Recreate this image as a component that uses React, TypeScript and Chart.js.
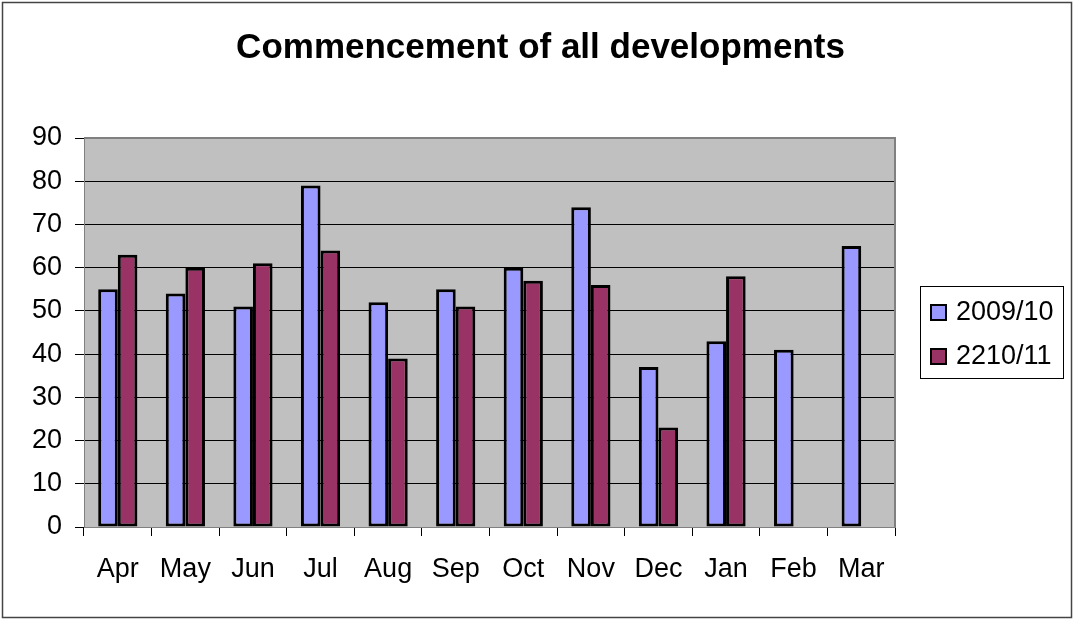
import React, { useEffect, useRef } from "react";
import { Chart, registerables } from "chart.js";

Chart.register(...registerables);

const titleText = "Commencement of all developments";
const months = ["Apr", "May", "Jun", "Jul", "Aug", "Sep", "Oct", "Nov", "Dec", "Jan", "Feb", "Mar"];
const series1Label = "2009/10";
const series1 = [55, 54, 51, 79, 52, 55, 60, 74, 37, 43, 41, 65];
const series2Label = "2210/11";
const series2: (number | null)[] = [63, 60, 61, 64, 39, 51, 57, 56, 23, 58, null, null];
const yTicks = [0, 10, 20, 30, 40, 50, 60, 70, 80, 90];

const FONT = "'Liberation Sans', Arial, sans-serif";

const chartDecor = {
  id: "chartDecor",
  beforeDraw(chart: any) {
    const { ctx, chartArea } = chart;
    ctx.save();
    ctx.fillStyle = "#ffffff";
    ctx.fillRect(0, 0, chart.width, chart.height);
    ctx.fillStyle = "#C0C0C0";
    ctx.fillRect(chartArea.left, chartArea.top, chartArea.right - chartArea.left, chartArea.bottom - chartArea.top);
    ctx.restore();
  },
  afterDraw(chart: any) {
    const { ctx, chartArea } = chart;
    ctx.save();
    // plot area border (top/right)
    ctx.strokeStyle = "#808080";
    ctx.lineWidth = 2;
    ctx.beginPath();
    ctx.moveTo(chartArea.left, chartArea.top);
    ctx.lineTo(chartArea.right, chartArea.top);
    ctx.lineTo(chartArea.right, chartArea.bottom);
    ctx.stroke();
    // outer border
    ctx.strokeStyle = "#444444";
    ctx.lineWidth = 1.5;
    ctx.strokeRect(2.5, 2.5, chart.width - 4, chart.height - 4);
    // legend
    ctx.strokeStyle = "#000000";
    ctx.lineWidth = 1;
    ctx.strokeRect(920.5, 286.5, 143, 92);
    ctx.font = `27px ${FONT}`;
    ctx.textBaseline = "middle";
    ctx.textAlign = "left";
    chart.data.datasets.forEach((ds: any, i: number) => {
      const y = 312 + i * 44;
      ctx.fillStyle = ds.backgroundColor;
      ctx.fillRect(931, y - 7, 15, 15);
      ctx.lineWidth = 2;
      ctx.strokeStyle = "#000000";
      ctx.strokeRect(931, y - 7, 15, 15);
      ctx.fillStyle = "#000000";
      ctx.fillText(ds.label, 956, y + 1);
    });
    ctx.restore();
  },
};

export default function App() {
  const ref = useRef<HTMLCanvasElement | null>(null);

  useEffect(() => {
    if (!ref.current) return;
    const chart = new Chart(ref.current, {
      type: "bar",
      data: {
        labels: months,
        datasets: [
          {
            label: series1Label,
            data: series1,
            backgroundColor: "#9999FF",
            borderColor: "#000000",
            borderWidth: 3,
            borderSkipped: false,
            categoryPercentage: 0.58,
            barPercentage: 1,
          },
          {
            label: series2Label,
            data: series2,
            backgroundColor: "#993366",
            borderColor: "#000000",
            borderWidth: 3,
            borderSkipped: false,
            categoryPercentage: 0.58,
            barPercentage: 1,
          },
        ],
      },
      options: {
        responsive: false,
        animation: false,
        layout: { padding: { left: 8, right: 0, top: 0, bottom: 0 } },
        plugins: {
          legend: { display: false },
          tooltip: { enabled: false },
          title: {
            display: true,
            text: titleText,
            color: "#000000",
            font: { family: FONT, size: 35, weight: "bold" },
            padding: { top: 27, bottom: 69 },
          },
        },
        scales: {
          x: {
            offset: true,
            grid: {
              offset: true,
              drawOnChartArea: false,
              drawTicks: true,
              tickLength: 9,
              color: "#000000",
            },
            border: { color: "#808080", width: 1 },
            ticks: {
              color: "#000000",
              font: { family: FONT, size: 27 },
              padding: 17,
              maxRotation: 0,
              autoSkip: false,
            },
            afterFit: (s: any) => {
              s.height = 92;
            },
          },
          y: {
            min: 0,
            max: 90,
            afterBuildTicks: (s: any) => {
              s.ticks = yTicks.map((v) => ({ value: v }));
            },
            grid: {
              color: (c: any) => (c.tick && c.tick.value === 90 ? "#808080" : "#000000"),
              tickColor: "#000000",
              tickLength: 9,
              lineWidth: 1,
              drawTicks: true,
            },
            border: { color: "#808080", width: 1 },
            ticks: {
              color: "#000000",
              font: { family: FONT, size: 27 },
              padding: 13,
            },
            afterFit: (s: any) => {
              s.width = 76;
            },
          },
          yR: {
            type: "linear",
            position: "right",
            display: true,
            grid: { display: false },
            border: { display: false },
            ticks: { display: false },
            afterFit: (s: any) => {
              s.width = 178;
            },
          },
        },
      } as any,
      plugins: [chartDecor],
    });
    return () => chart.destroy();
  }, []);

  return (
    <div style={{ position: "fixed", left: 0, top: 0, width: 1073, height: 619, background: "#fff" }}>
      <canvas ref={ref} width={1073} height={619} style={{ display: "block" }} />
    </div>
  );
}
